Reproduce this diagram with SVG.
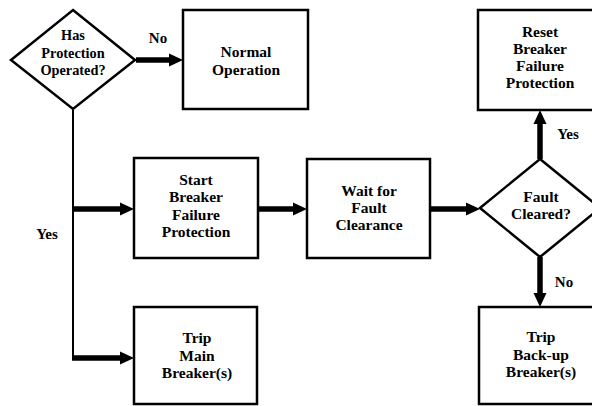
<svg xmlns="http://www.w3.org/2000/svg" width="592" height="406" viewBox="0 0 592 406">
<style>
.box{fill:#fff;stroke:#000;stroke-width:2.5}
.t{font-family:"Liberation Serif","Times New Roman",serif;font-weight:bold;font-size:15.5px;text-anchor:middle;fill:#000}
.d{font-size:14.3px}
.lbl{font-family:"Liberation Serif","Times New Roman",serif;font-weight:bold;font-size:15px;text-anchor:middle;fill:#000}
.thick{stroke:#000;stroke-width:5.5;fill:none;marker-end:url(#ah)}
.thin{stroke:#000;stroke-width:2;fill:none}
</style>
<defs>
<marker id="ah" markerUnits="userSpaceOnUse" viewBox="0 0 14 14" markerWidth="14" markerHeight="14" refX="4" refY="7" orient="auto">
<path d="M0,0.5 L14,7 L0,13.5 z" fill="#000"/>
</marker>
</defs>
<rect width="592" height="406" fill="#fff"/>
<g id="connectors">
<path class="thin" d="M73,109 V358"/>
<path class="thick" d="M136,60 H173"/>
<path class="thick" d="M72,209 H124"/>
<path class="thick" d="M72,358 H124"/>
<path class="thick" d="M258,209 H297"/>
<path class="thick" d="M430,209 H470"/>
<path class="thick" d="M540,159 V120"/>
<path class="thick" d="M540,257 V297"/>
<text class="lbl" x="158" y="43">No</text>
<text class="lbl" x="47" y="239">Yes</text>
<text class="lbl" x="568" y="139">Yes</text>
<text class="lbl" x="564" y="287">No</text>
</g>
<g id="has-protection-operated">
<path class="box" d="M73,10 L135,60 L73,109 L11,60 z"/>
<text class="t d" x="73" y="40">Has</text>
<text class="t d" x="73" y="57.5">Protection</text>
<text class="t d" x="73" y="75">Operated?</text>
</g>
<g id="normal-operation">
<rect class="box" x="183" y="10" width="125" height="99"/>
<text class="t" x="246" y="57">Normal</text>
<text class="t" x="246" y="75">Operation</text>
</g>
<g id="reset-bfp">
<rect class="box" x="478" y="10" width="124" height="100"/>
<text class="t" x="540" y="37">Reset</text>
<text class="t" x="540" y="54">Breaker</text>
<text class="t" x="540" y="71">Failure</text>
<text class="t" x="540" y="88">Protection</text>
</g>
<g id="start-bfp">
<rect class="box" x="134" y="158" width="124" height="100"/>
<text class="t" x="196" y="185">Start</text>
<text class="t" x="196" y="202">Breaker</text>
<text class="t" x="196" y="220">Failure</text>
<text class="t" x="196" y="237">Protection</text>
</g>
<g id="wait-fault-clearance">
<rect class="box" x="307" y="159" width="123" height="99"/>
<text class="t" x="369" y="196">Wait for</text>
<text class="t" x="369" y="213">Fault</text>
<text class="t" x="369" y="230">Clearance</text>
</g>
<g id="fault-cleared">
<path class="box" d="M540,159 L600,208 L540,257 L480,208 z"/>
<text class="t" x="541" y="201.5">Fault</text>
<text class="t" x="541" y="219">Cleared?</text>
</g>
<g id="trip-main">
<rect class="box" x="134" y="307" width="123" height="97"/>
<text class="t" x="197" y="343">Trip</text>
<text class="t" x="197" y="361">Main</text>
<text class="t" x="197" y="378">Breaker(s)</text>
</g>
<g id="trip-backup">
<rect class="box" x="479" y="307" width="123" height="97"/>
<text class="t" x="541" y="342">Trip</text>
<text class="t" x="541" y="360">Back-up</text>
<text class="t" x="541" y="377">Breaker(s)</text>
</g>
</svg>
